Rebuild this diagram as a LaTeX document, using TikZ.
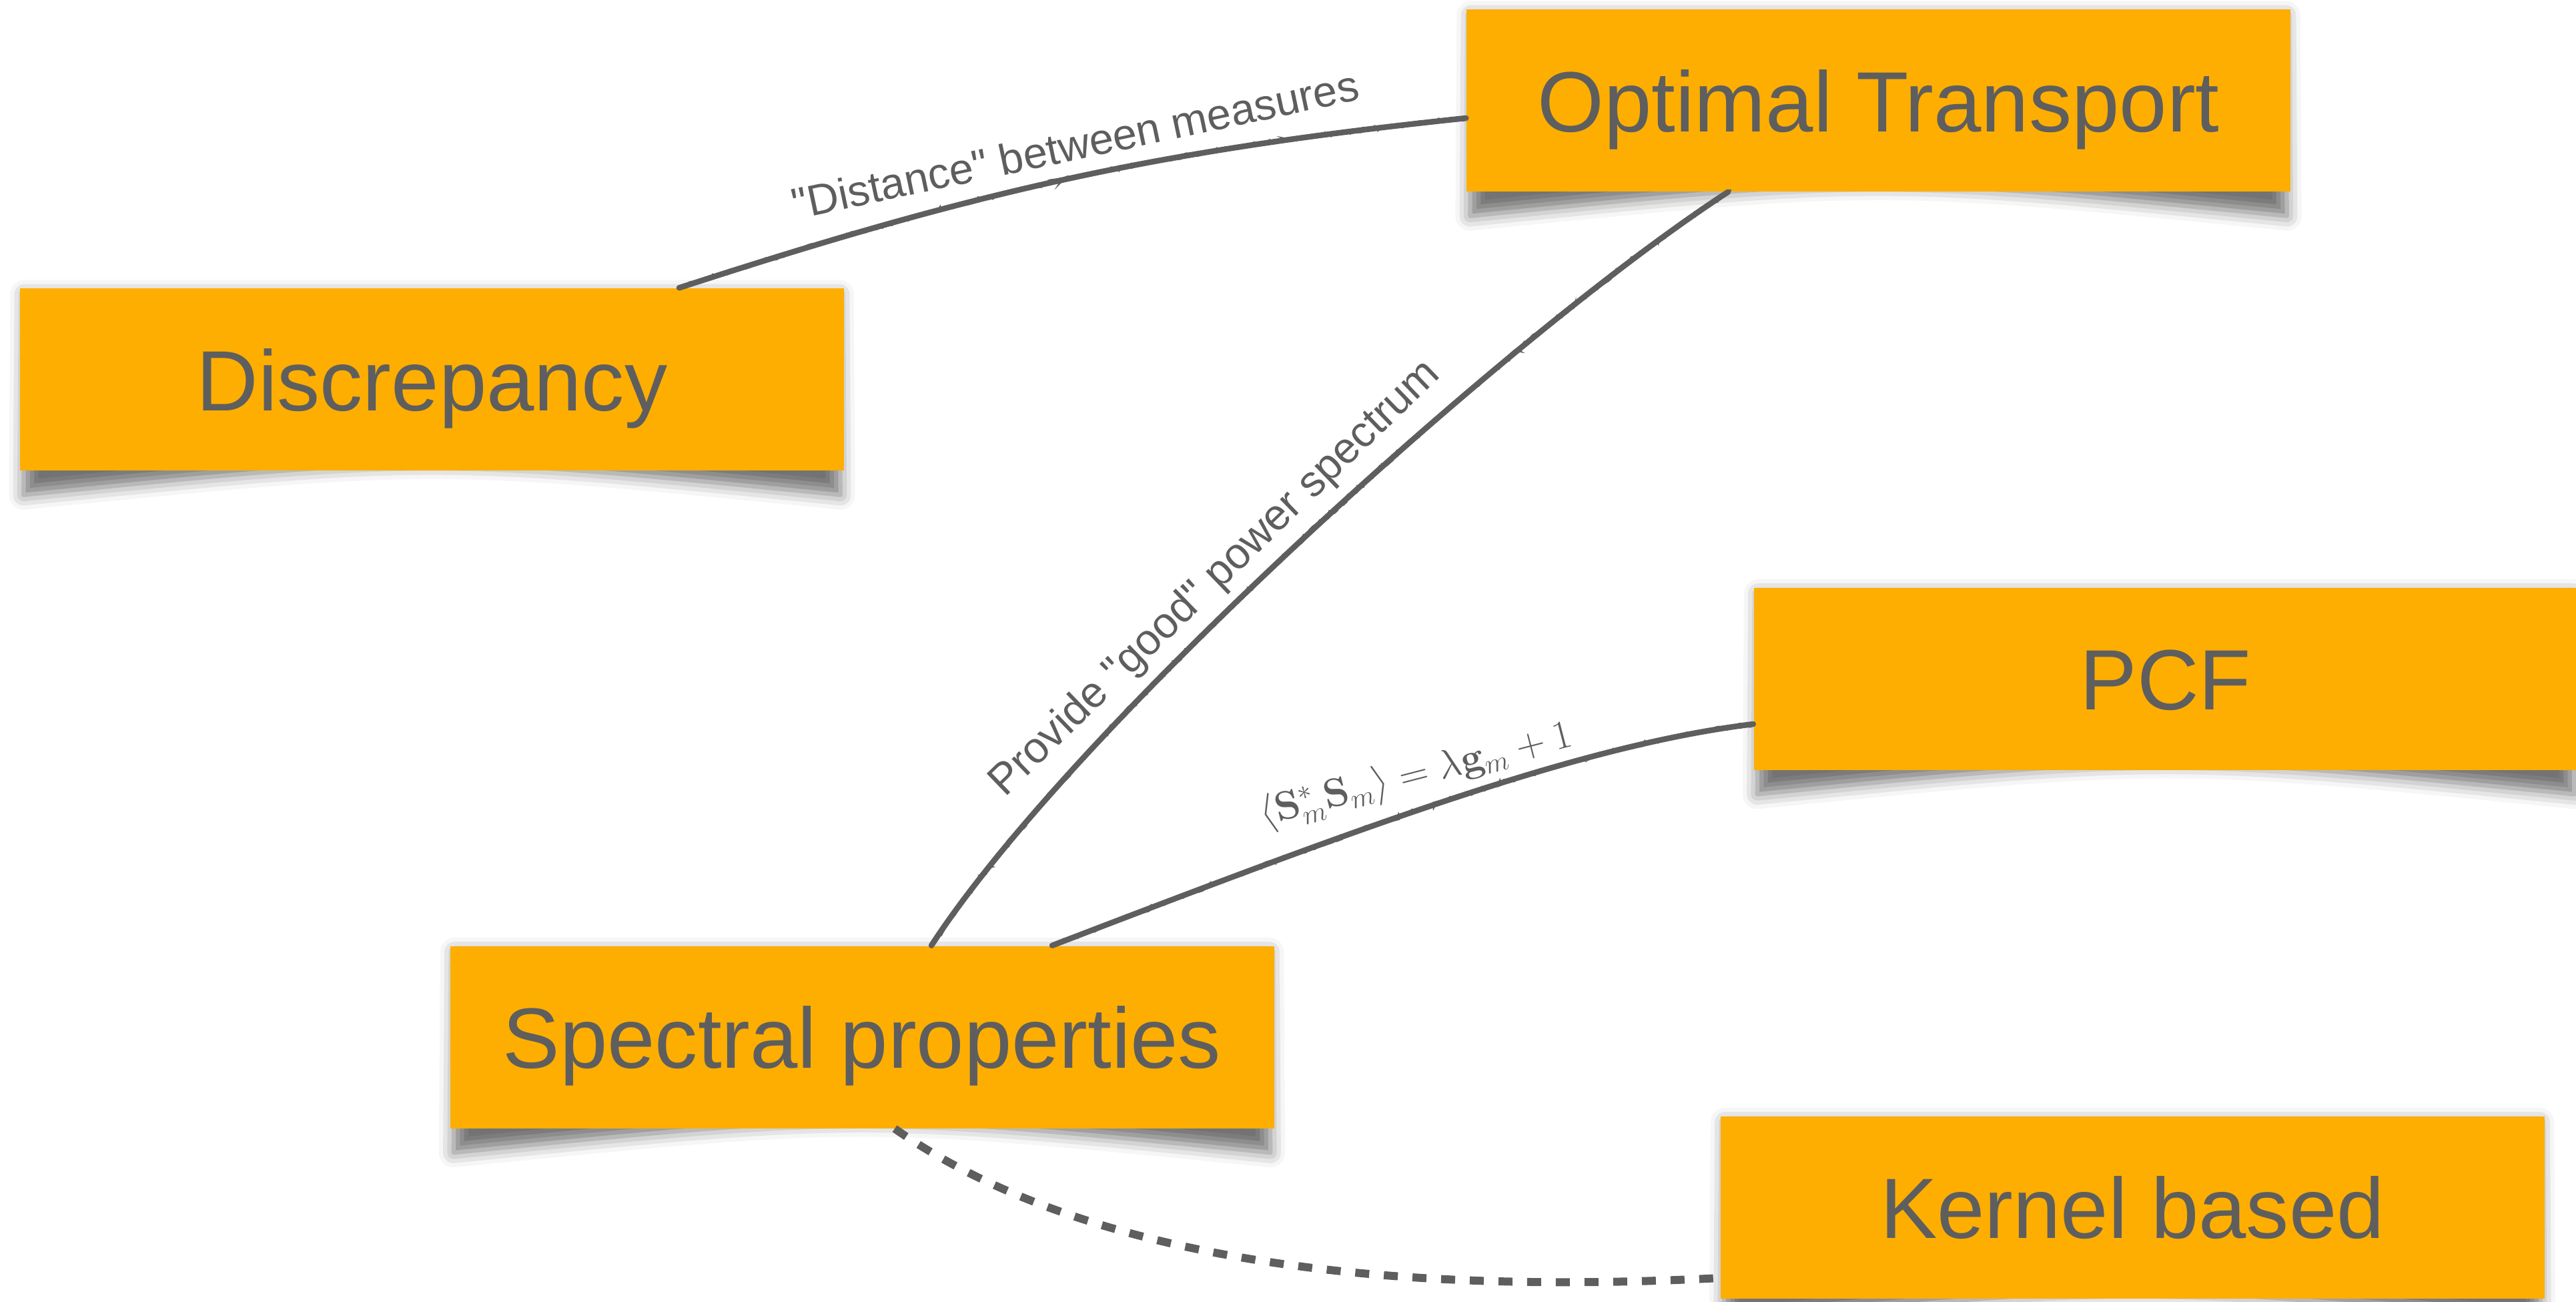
\documentclass[tikz,border=0pt]{standalone}
\usepackage[no-math]{fontspec}
\setmainfont{Liberation Sans}
\usetikzlibrary{shadows.blur,decorations.pathmorphing}
\definecolor{boxfill}{RGB}{253,174,0}
\definecolor{ink}{RGB}{94,94,94}
\pgfdeclarelayer{background}
\pgfsetlayers{background,main}
\begin{document}
\begin{tikzpicture}[
  topic/.style={fill=boxfill, text=ink, minimum width=12.35cm, minimum height=2.73cm,
    inner sep=0pt, text height=0.93cm, text depth=0cm, font=\fontsize{36.5}{40}\selectfont},
  curl shadow/.style={blur shadow={shadow xshift=0cm, shadow yshift=0cm,
    shadow blur radius=0.22cm, shadow opacity=55}},
  link/.style={draw=ink, line width=0.085cm, line cap=round,
    postaction={decorate, draw=ink, line width=0.03cm,
      decoration={random steps, segment length=0.05cm, amplitude=0.035cm}}},
  weaklink/.style={draw=ink, line width=0.12cm, dash pattern=on 0.21cm off 0.22cm},
  tag/.style={text=ink, font=\fontsize{18.5}{22}\selectfont, inner xsep=0.1cm}
]
\useasboundingbox (0,0) rectangle (38.61,-19.51);

% topics
\node[topic] (ot)   at (28.155,-1.505) {Optimal Transport};
\node[topic] (disc) at (6.475,-5.685)  {Discrepancy};
\node[topic] (pcf)  at (32.46,-10.17)  {PCF};
\node[topic] (spec) at (12.92,-15.54)  {Spectral properties};
\node[topic] (kern) at (31.96,-18.09)  {Kernel based};

% lifted-paper shadows, darker at the lower corners
\begin{pgfonlayer}{background}
\foreach \n in {ot,disc,pcf,spec,kern}{
  \path[curl shadow] ([xshift=0.08cm,yshift=-0.1cm]\n.north west) -- ([xshift=-0.08cm,yshift=-0.1cm]\n.north east)
    -- ([xshift=-0.06cm,yshift=-0.36cm]\n.south east)
    .. controls ([yshift=0.25cm]\n.south) .. ([xshift=0.06cm,yshift=-0.36cm]\n.south west)
    -- cycle;
}
\end{pgfonlayer}

% relations
\draw[link] ([xshift=3.705cm]disc.north) to[out=18,in=186]
  node[tag, sloped, pos=0.52, above, inner ysep=0.2cm] {\textquotedbl Distance\textquotedbl\ between measures}
  ([yshift=-0.265cm]ot.west);
\draw[link] ([xshift=1.04cm]spec.north) to[out=57,in=213,looseness=0.6]
  node[tag, sloped, pos=0.43, above, inner ysep=0.12cm] {Provide \textquotedbl good\textquotedbl\ power spectrum}
  ([xshift=-2.255cm]ot.south);
\draw[link] ([xshift=2.85cm]spec.north) to[out=21,in=187,out looseness=1.2,in looseness=0.6]
  node[tag, pos=0.45, rotate=14.5, above, inner ysep=0.15cm, font=\fontsize{17}{20}\selectfont]
  {$\langle \mathbf{S}_m^{*}\mathbf{S}_m\rangle = \lambda\mathbf{g}_m + 1$}
  ([yshift=-0.68cm]pcf.west);
\draw[weaklink] ([xshift=0.49cm]spec.south) to[out=-35,in=183,looseness=0.8]
  ([yshift=-1.06cm]kern.west);
\end{tikzpicture}
\end{document}
